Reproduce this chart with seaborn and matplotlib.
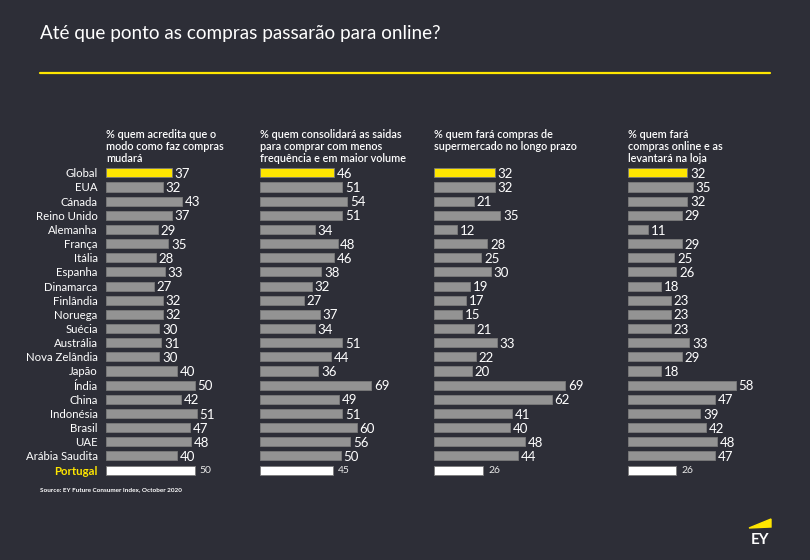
import pandas as pd
import seaborn as sns
import matplotlib.pyplot as plt
from matplotlib.patches import Polygon

BG = '#2d2e37'
YELLOW = '#ffe600'
GRAY = '#939393'

countries = ['Global', 'EUA', 'Cánada', 'Reino Unido', 'Alemanha', 'França', 'Itália',
             'Espanha', 'Dinamarca', 'Finlândia', 'Noruega', 'Suécia', 'Austrália',
             'Nova Zelândia', 'Japão', 'Índia', 'China', 'Indonésia', 'Brasil', 'UAE',
             'Arábia Saudita', 'Portugal']

acredita = [37, 32, 43, 37, 29, 35, 28, 33, 27, 32, 32, 30, 31, 30, 40, 50, 42, 51, 47, 48, 40, 50]
consolida = [46, 51, 54, 51, 34, 48, 46, 38, 32, 27, 37, 34, 51, 44, 36, 69, 49, 51, 60, 56, 50, 45]
supermercado = [32, 32, 21, 35, 12, 28, 25, 30, 19, 17, 15, 21, 33, 22, 20, 69, 62, 41, 40, 48, 44, 26]
levantar = [32, 35, 32, 29, 11, 29, 25, 26, 18, 23, 23, 23, 33, 29, 18, 58, 47, 39, 42, 48, 47, 26]

headers = ['% quem acredita que o\nmodo como faz compras\nmudará',
           '% quem consolidará as saidas\npara comprar com menos\nfrequência e em maior volume',
           '% quem fará compras de\nsupermercado no longo prazo',
           '% quem fará\ncompras online e as\nlevantará na loja']

df = pd.DataFrame({'pais': countries, 'acredita': acredita, 'consolida': consolida,
                   'supermercado': supermercado, 'levantar': levantar})
series = ['acredita', 'consolida', 'supermercado', 'levantar']

sns.set_style('dark')
plt.rcParams['font.family'] = ['Lato', 'DejaVu Sans']

palette = {c: GRAY for c in countries}
palette['Global'] = YELLOW
palette['Portugal'] = 'white'

fig = plt.figure(figsize=(8.1, 5.6), dpi=100, facecolor=BG)

# posição (px) de início das barras e limite x de cada painel
lefts = [106, 260, 434, 628]
xmaxs = [78.7, 86.7, 73.7, 75.5]
W, H = 810, 560

for k, col in enumerate(series):
    ax = fig.add_axes([lefts[k] / W, 0.148, 140 / W, 0.556])
    ax.set_facecolor(BG)
    sns.barplot(data=df, x=col, y='pais', hue='pais', palette=palette, legend=False,
                width=0.64, ax=ax, edgecolor='#7b7b7b', linewidth=0.6, saturation=1)
    ax.set_xlim(0, xmaxs[k])
    ax.set_ylim(len(countries) - 0.5, -0.5)
    for s in ax.spines.values():
        s.set_visible(False)
    ax.set_xticks([])
    ax.set_xlabel('')
    ax.set_ylabel('')
    ax.grid(False)
    for i, v in enumerate(df[col]):
        if countries[i] == 'Portugal':
            ax.annotate(str(v), (v, i), xytext=(3.5, -0.5), textcoords='offset points',
                        va='center', ha='left', color='#e8e8e8', fontsize=7.5)
        else:
            ax.annotate(str(v), (v, i), xytext=(2, -0.8), textcoords='offset points',
                        va='center', ha='left', color='white', fontsize=9.5)
    if k == 0:
        ax.tick_params(axis='y', length=0, pad=6, labelsize=8.2, labelcolor='white')
        for lab in ax.get_yticklabels():
            if lab.get_text() == 'Portugal':
                lab.set_color(YELLOW)
                lab.set_fontweight('bold')
    else:
        ax.set_yticks([])
    fig.text(lefts[k] / W, 1 - 129 / H, headers[k], color='white', fontsize=7.8,
             va='top', ha='left', linespacing=1.1, fontweight='semibold')

fig.text(40 / W, 1 - 33 / H, 'Até que ponto as compras passarão para online?',
         color='white', fontsize=13.6, va='center', ha='left')
fig.add_artist(plt.Line2D([40 / W, 770 / W], [1 - 73 / H, 1 - 73 / H],
                          color=YELLOW, lw=1.6, transform=fig.transFigure))
fig.text(40 / W, 1 - 490 / H, 'Source: EY Future Consumer Index, October 2020',
         color='white', fontsize=4.6, va='center', ha='left', fontweight='bold')

# logo EY
fig.add_artist(Polygon([(749 / W, 1 - 528 / H), (771 / W, 1 - 519 / H), (771 / W, 1 - 527 / H)],
                       closed=True, color=YELLOW, transform=fig.transFigure))
fig.text(760 / W, 1 - 540 / H, 'EY', color='white', fontsize=11, fontweight='bold',
         va='center', ha='center')

fig.savefig('out.png', facecolor=BG)
plt.close()
